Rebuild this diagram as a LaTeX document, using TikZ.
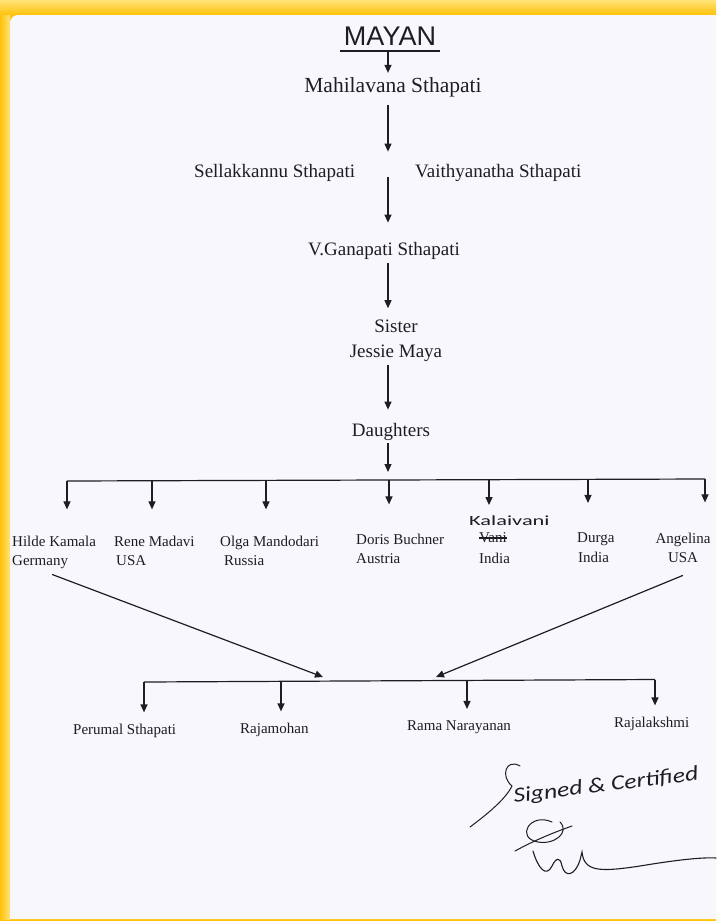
\documentclass[tikz,border=0pt]{standalone}
\usepackage{fontspec}
\usepackage{graphicx}
\setmainfont{Liberation Serif}
\newfontfamily\mayanfont{Liberation Sans}
\newfontfamily\handfont{Carlito}
\usetikzlibrary{arrows.meta}
\definecolor{pagecol}{RGB}{248,247,251}
\definecolor{ink}{RGB}{30,30,34}
\definecolor{frameA}{RGB}{255,194,8}
\definecolor{frameB}{RGB}{255,226,120}
\begin{document}
\begin{tikzpicture}[x=1pt,y=-1pt,
  conn/.style={draw=ink, line width=1.2pt},
  arr/.style={conn, -{Triangle[length=8pt,width=7pt]}},
  big/.style={inner sep=0pt, anchor=base, font=\fontsize{19}{23}\selectfont, text=ink},
  bigw/.style={big, anchor=base west},
  kid/.style={inner sep=0pt, anchor=base west, font=\fontsize{15}{18}\selectfont, text=ink},
  hand/.style={inner sep=0pt, text=ink, font=\handfont\fontsize{14}{16}\selectfont},
  sig/.style={draw=ink, line width=1pt, line cap=round}]
\useasboundingbox (0,0) rectangle (716,921);
% frame and page
\fill[frameA] (0,0) rectangle (716,921);
\shade[top color=frameB, bottom color=frameA] (0,0) rectangle (716,15);
\shade[left color=frameA, right color=frameB] (0,15) rectangle (10,919);
\fill[pagecol] (10,919) [rounded corners=8pt]-- (10,15) [sharp corners]-- (716,15) -- (716,919) -- cycle;

\coordinate (axis) at (388,0);

% main chain
\node[inner sep=0pt, anchor=base, text=ink, font=\mayanfont\fontsize{27}{30}\selectfont] (mayan) at (390,45) {MAYAN};
\draw[conn] ([xshift=-4pt,yshift=-6pt]mayan.base west) -- ([xshift=4pt,yshift=-6pt]mayan.base east);
\node[big, font=\fontsize{21.5}{25}\selectfont] (mahil) at (393,92) {Mahilavana Sthapati};
\draw[arr] ([yshift=-6pt]mayan.base -| axis) -- ([yshift=4pt]mahil.north -| axis);

\node[bigw] (sella) at (194,177) {Sellakkannu Sthapati};
\node[bigw] (vaith) at (415,177) {Vaithyanatha Sthapati};
\draw[arr] ([yshift=-8pt]mahil.south -| axis) -- ([yshift=12pt]sella.north -| axis);

\node[bigw] (ganap) at (308,255) {V.Ganapati Sthapati};
\draw[arr] (sella.base -| axis) -- ([yshift=19pt]ganap.north -| axis);

\node[big] (sister) at (396,332) {Sister};
\node[big] (jessie) at (396,357) {Jessie Maya};
\draw[arr] ([yshift=-4pt]ganap.south -| axis) -- ([yshift=11pt]sister.north -| axis);

\node[big] (daught) at (391,436) {Daughters};
\draw[arr] ([yshift=-4pt]jessie.south -| axis) -- ([yshift=13pt]daught.north -| axis);

% daughters bar
\coordinate (u1) at (67,481);
\coordinate (u2) at (152,481);
\coordinate (u3) at (266,480.5);
\coordinate (u4) at (389,480);
\coordinate (u5) at (489,479.7);
\coordinate (u6) at (588,479.4);
\coordinate (u7) at (705,479);
\draw[arr] ([yshift=-3pt]daught.south -| axis) -- ([yshift=8pt]u4 -| axis);
\draw[conn] (u1) -- (u7);

% daughters
\node[kid] (hilde) at (12,546) {Hilde Kamala};
\node[kid] (hildec) at (12,565) {Germany};
\node[kid] (rene) at (114,546) {Rene Madavi};
\node[kid] (renec) at (116,565) {USA};
\node[kid] (olga) at (220,546) {Olga Mandodari};
\node[kid] (olgac) at (224,565) {Russia};
\node[kid] (doris) at (356,544) {Doris Buchner};
\node[kid] (dorisc) at (356,563) {Austria};
\node[kid] (vani) at (479,542) {Vani};
\node[kid] (vanic) at (479,563) {India};
\node[hand, anchor=base west] (kalai) at (469,525) {\scalebox{1.6}[1]{Kalaivani}};
\node[kid] (durga) at (577,542) {Durga};
\node[kid] (durgac) at (578,562) {India};
\node[kid, anchor=base] (angel) at (683,543) {Angelina};
\node[kid, anchor=base] (angelc) at (683,562) {USA};
\draw[ink, line width=1.1pt] ([yshift=4pt]vani.base west) -- ([yshift=4pt]vani.base east);

\draw[arr] (u1) -- ([yshift=26pt]u1 |- hilde.north);
\draw[arr] (u2) -- ([yshift=26pt]u2 |- rene.north);
\draw[arr] (u3) -- ([yshift=26pt]u3 |- olga.north);
\draw[arr] (u4) -- ([yshift=29pt]u4 |- doris.north);
\draw[arr] (u5) -- ([yshift=10pt]u5 |- kalai.north);
\draw[arr] (u6) -- ([yshift=29pt]u6 |- durga.north);
\draw[arr] (u7) -- ([yshift=30pt]u7 |- angel.north);

% grandchildren bar
\coordinate (lt) at (323,677);
\coordinate (rt) at (436,677);
\draw[arr] ([xshift=12pt,yshift=-6pt]hildec.south) -- (lt);
\draw[arr] ([yshift=-13pt]angelc.south) -- (rt);

\coordinate (v1) at (144,682);
\coordinate (v2) at (281,681.5);
\coordinate (v3) at (467,680.5);
\coordinate (v4) at (655,679.5);
\draw[conn] (v1) -- (v4);

\node[kid] (perum) at (73,734) {Perumal Sthapati};
\node[kid] (rajam) at (240,733) {Rajamohan};
\node[kid] (raman) at (407,730) {Rama Narayanan};
\node[kid] (rajal) at (614,727) {Rajalakshmi};
\draw[arr] (v1) -- ([yshift=11pt]v1 |- perum.north);
\draw[arr] (v2) -- ([yshift=11pt]v2 |- rajam.north);
\draw[arr] (v3) -- ([yshift=11pt]v3 |- raman.north);
\draw[arr] (v4) -- ([yshift=11pt]v4 |- rajal.north);

% signature
\node[hand, font=\handfont\itshape\fontsize{21}{24}\selectfont, rotate=7] (sign) at (606,786) {\scalebox{1.22}[1]{Signed \& Certified}};
\draw[sig] (520,766) .. controls (506,758) and (500,776) .. (512,786) .. controls (505,800) and (486,815) .. (470,827);
\draw[sig] (552,822) .. controls (530,812) and (515,838) .. (538,842) .. controls (555,845) and (570,832) .. (560,822);
\draw[sig] (515,851) .. controls (535,840) and (555,832) .. (572,826);
\draw[sig, line width=1.1pt] (533,851) .. controls (538,868) and (546,878) .. (552,866) .. controls (556,858) and (560,856) .. (562,866) .. controls (565,878) and (575,876) .. (580,860) .. controls (581,856) .. (582,852) .. controls (584,872) and (600,872) .. (640,866) .. controls (670,861) and (700,857) .. (716,858);
\end{tikzpicture}
\end{document}
